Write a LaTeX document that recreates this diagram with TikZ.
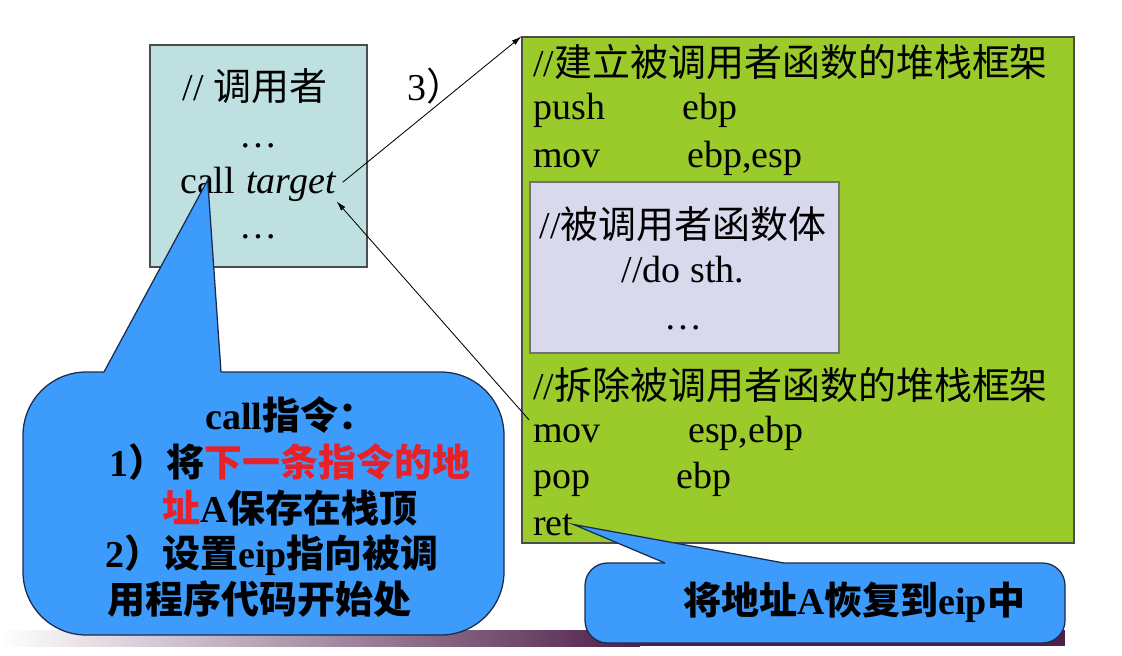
\documentclass[tikz,border=0pt]{standalone}
\usepackage{fontspec}
\setmainfont{Liberation Serif}
\newfontfamily\cjk{Noto Sans CJK SC}
\usetikzlibrary{fit,arrows.meta}
\definecolor{callerbg}{HTML}{BEE0E1}
\definecolor{framebg}{HTML}{9BCB2B}
\definecolor{bodybg}{HTML}{D9D9EE}
\definecolor{notebg}{HTML}{3D9BFC}
\definecolor{noteline}{HTML}{1B2B4F}
\definecolor{notered}{HTML}{E8202A}
\definecolor{barpurple}{HTML}{4F1F4A}
\newcommand\zh[1]{{\cjk #1}}
\tikzset{
  box/.style={draw=black!70,line width=0.8pt,inner sep=0pt},
  code/.style={anchor=base west,inner sep=0pt},
  mid/.style={anchor=base,inner sep=0pt},
  note/.style={fill=notebg,draw=noteline,line width=0.9pt},
  link/.style={-{Latex[length=7pt,width=4pt]},line width=0.6pt}
}
\begin{document}
\begin{tikzpicture}[x=0.025cm,y=-0.025cm,font=\fontsize{27}{32}\selectfont]
\useasboundingbox (0,0) rectangle (1122,656);
\shade[left color=white,right color=barpurple] (0,630) rectangle (640,646); % footer bar
\fill[barpurple] (639,630) rectangle (1065,646);

% caller
\node[box,fill=callerbg,fit={(150,45) (367,267)}] (caller) {};
\path (255,101) node[mid] (cmt) {// \zh{调用者}}
      (258,147) node[mid] (dotsA) {…}
      (180,193) node[code] (callw) {call}
      (246,193) node[code] (tgt) {\textit{target}}
      (258,238) node[mid] (dotsB) {…}
      (407,101) node[code] (stepthree) {3\zh{）}};

% callee frame
\node[box,fill=framebg,fit={(522,37) (1074,543)}] (frame) {};
\node[box,fill=bodybg,draw=black!55,fit={(530,182) (839,353)}] (body) {};
\path (533,77) node[code] (setup) {//\zh{建立被调用者函数的堆栈框架}}
      (533,120) node[code] (push) {push}
      (682,120) node[code] (pushreg) {ebp}
      (533,167) node[code] (movA) {mov}
      (687,167) node[code] (movAreg) {ebp,esp}
      (683,238) node[mid] (bodycmt) {//\zh{被调用者函数体}}
      (683,282) node[mid] (dosth) {//do sth.}
      (683,329) node[mid] (dotsC) {…}
      (533,399) node[code] (teardown) {//\zh{拆除被调用者函数的堆栈框架}}
      (533,442) node[code] (movB) {mov}
      (688,442) node[code] (movBreg) {esp,ebp}
      (533,488) node[code] (pop) {pop}
      (676,488) node[code] (popreg) {ebp}
      (533,535) node[code] (ret) {ret};

\draw[link] ([shift={(6,-4)}]tgt.east) -- (frame.north west);
\draw[link] ([shift={(-4,-4)}]movB.north west) -- (tgt.south east);

% call note
\path[note,rounded corners=45] (23,372) rectangle (504,635);
\fill[notebg] (104,372) -- (callw.center) -- (221,372) -- (221,376) -- (104,376) -- cycle;
\draw[noteline,line width=0.9pt] (104,372) -- (callw.center) -- (221,372);
\begin{scope}[font=\fontsize{27}{32}\selectfont\bfseries]
\path (205,429) node[code] (callhd) {call\zh{指令：}}
      (109,476) node[code] (stepone) {1\zh{）将\textcolor{notered}{下一条指令的地}}}
      (162,522) node[code] (steponeb) {\zh{\textcolor{notered}{址}}A\zh{保存在栈顶}}
      (105,567) node[code] (steptwo) {2\zh{）设置}eip\zh{指向被调}}
      (107,613) node[code] (steptwob) {\zh{用程序代码开始处}};
\end{scope}

% ret note
\path[note,rounded corners=16] (585,563) rectangle (1065,643);
\fill[notebg] (665,563) -- (ret.east) -- (784,563) -- (784,567) -- (665,567) -- cycle;
\draw[noteline,line width=0.9pt] (665,563) -- (ret.east) -- (784,563);
\node[code,font=\fontsize{27}{32}\selectfont\bfseries] (restore) at (683,614)
  {\zh{将地址}A\zh{恢复到}eip\zh{中}};
\end{tikzpicture}
\end{document}
